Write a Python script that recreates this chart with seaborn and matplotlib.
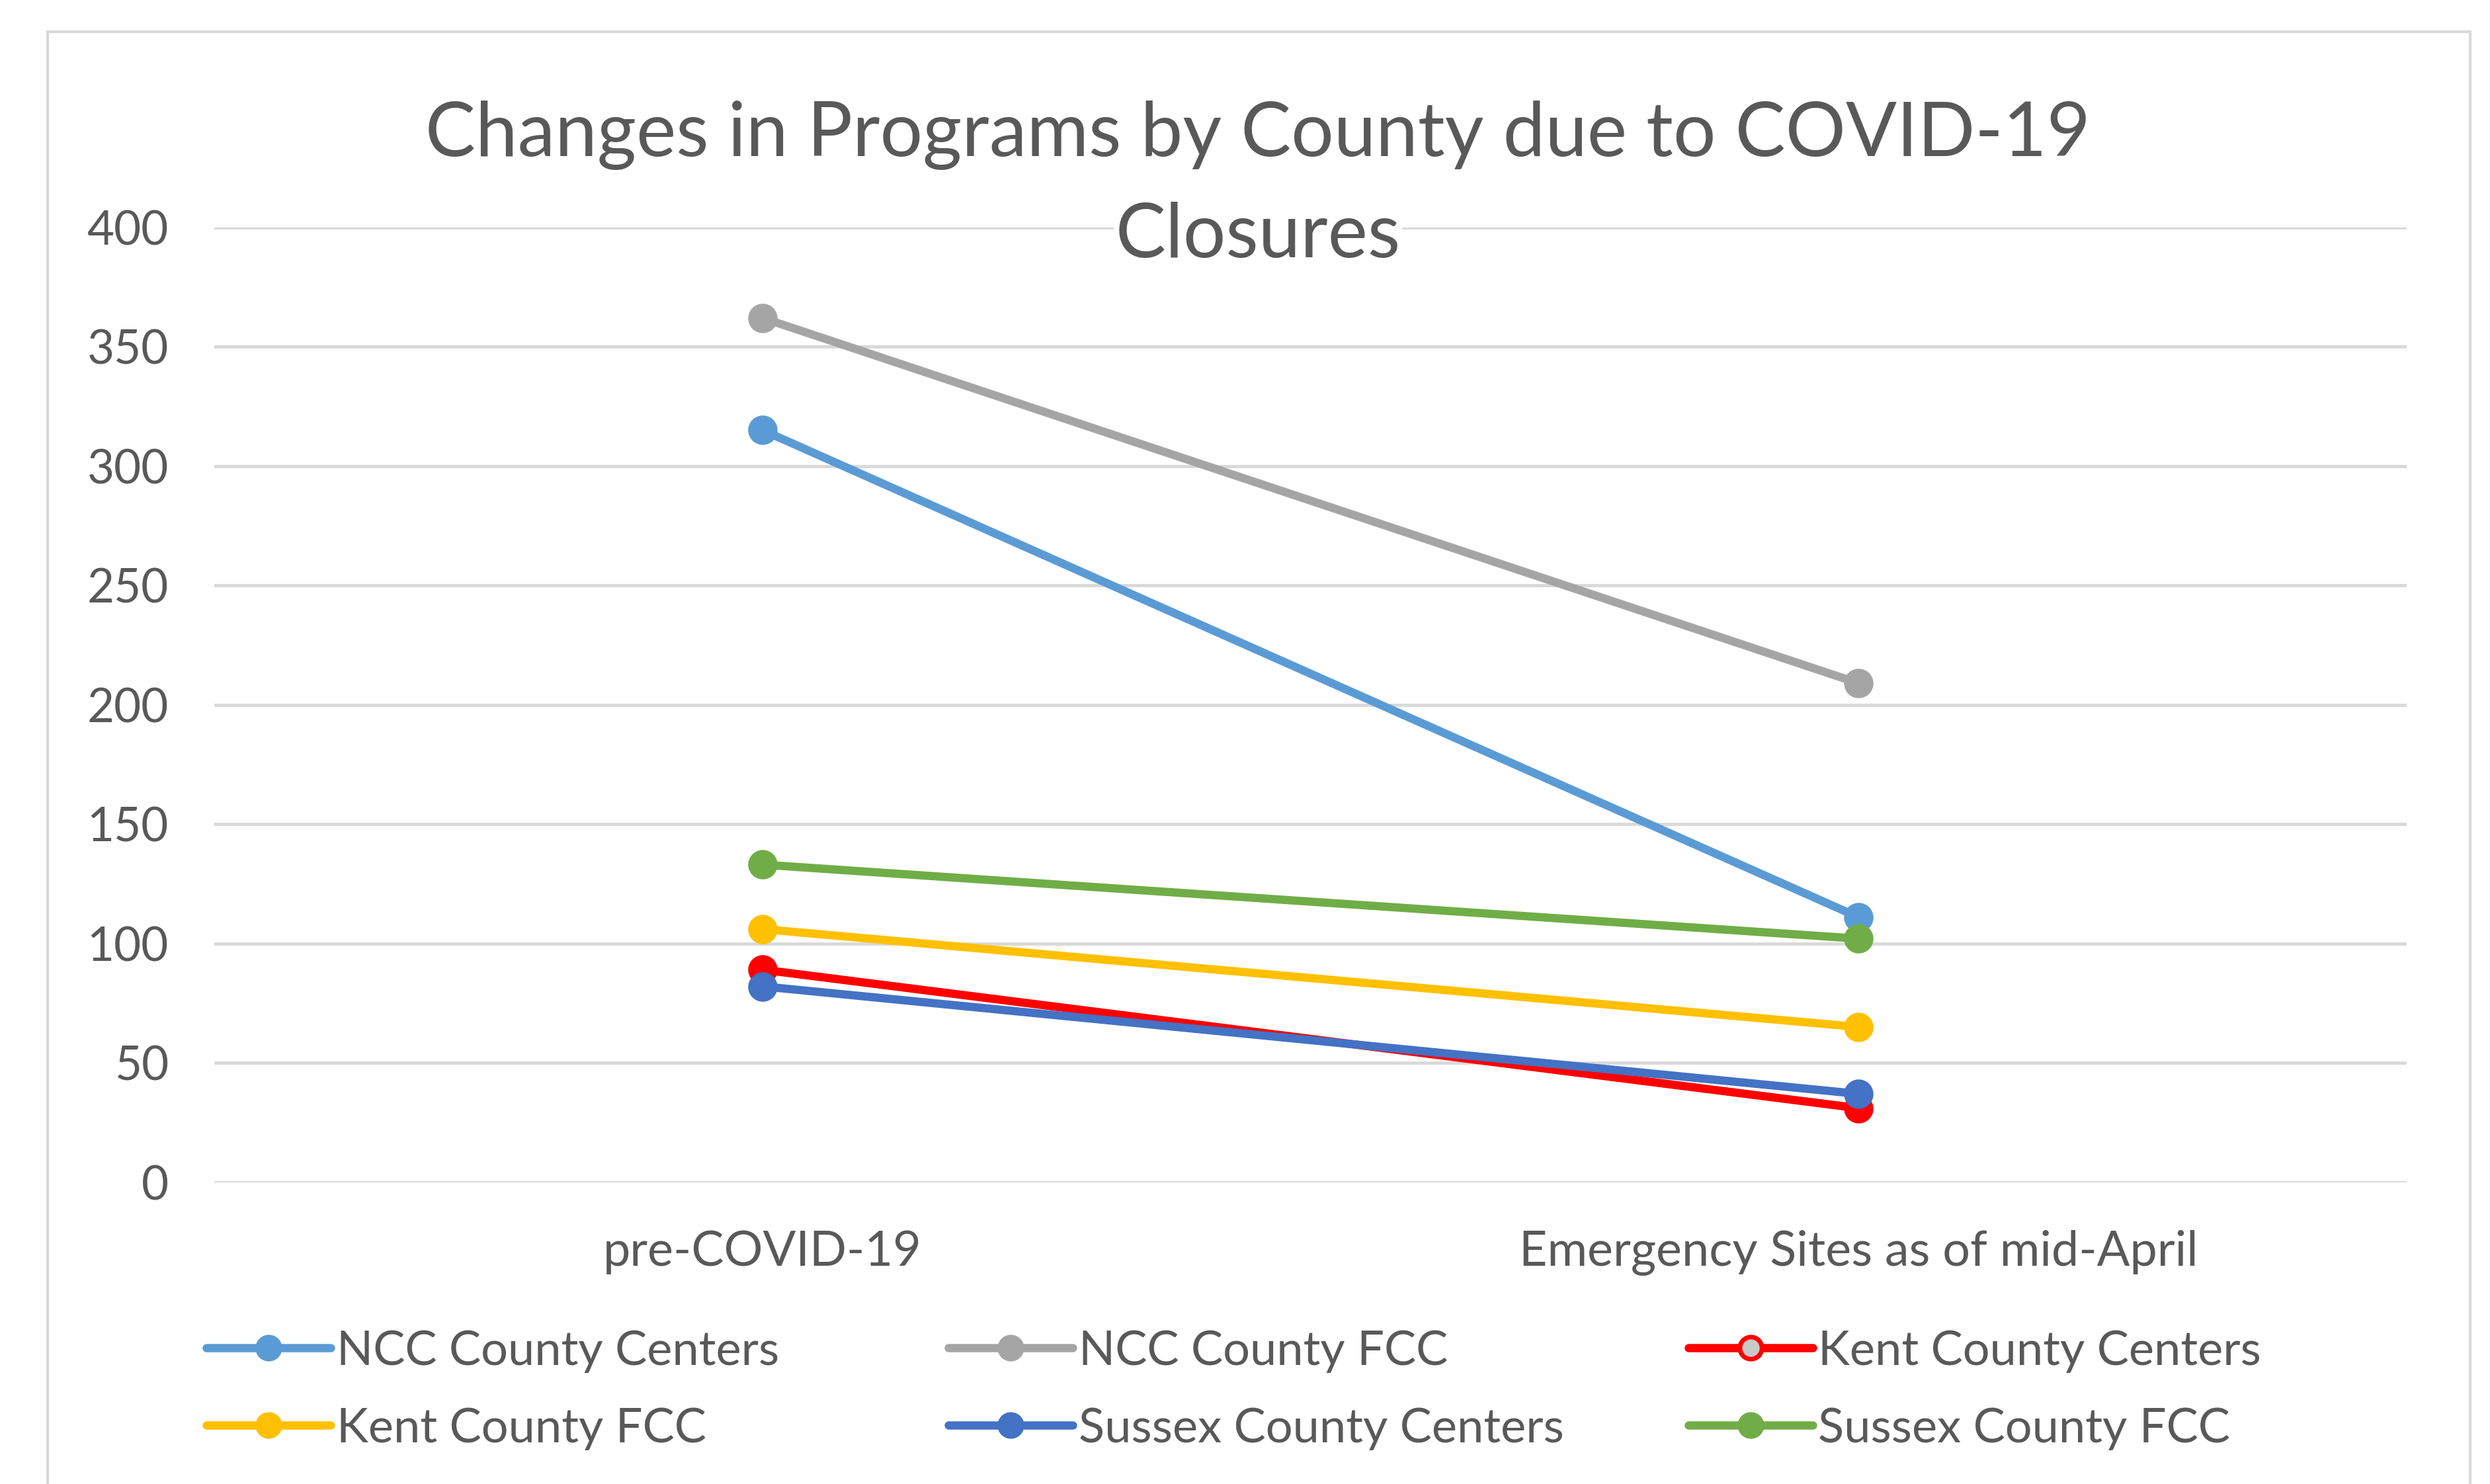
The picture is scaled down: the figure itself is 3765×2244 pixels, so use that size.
import pandas as pd
import matplotlib.pyplot as plt
import seaborn as sns
from matplotlib.lines import Line2D
from matplotlib.patches import Rectangle

# Dati
periods = ["pre-COVID-19", "Emergency Sites as of mid-April"]
series = ["NCC County Centers", "NCC County FCC", "Kent County Centers",
          "Kent County FCC", "Sussex County Centers", "Sussex County FCC"]
ncc_centers = [315, 111]
ncc_fcc = [362, 209]
kent_centers = [89, 31]
kent_fcc = [106, 65]
sussex_centers = [82, 37]
sussex_fcc = [133, 102]
colors = ["#5B9BD5", "#A5A5A5", "#FF0000", "#FFC000", "#4472C4", "#70AD47"]
y_ticks = [0, 50, 100, 150, 200, 250, 300, 350, 400]

values = [ncc_centers, ncc_fcc, kent_centers, kent_fcc, sussex_centers, sussex_fcc]
rows = []
for name, vals in zip(series, values):
    for p, v in zip(periods, vals):
        rows.append({"period": p, "programs": v, "series": name})
df = pd.DataFrame(rows)

sns.set_style("white")
plt.rcParams["font.family"] = ["Lato", "DejaVu Sans"]
text_color = "#595959"

fig = plt.figure(figsize=(37.66, 22.44), dpi=100)
fig.patch.set_facecolor("white")

# Cornice del grafico (stile Excel)
fig.patches.append(Rectangle((0.0191, -0.05), 0.9727, 1.0286, transform=fig.transFigure,
                             fill=False, edgecolor="#d9d9d9", linewidth=3))

ax = fig.add_axes([0.0861, 0.2034, 0.8801, 0.6435])
lw = 9
ms = 30
sns.lineplot(data=df, x="period", y="programs", hue="series", hue_order=series,
             palette=colors, marker="o", markersize=ms, linewidth=lw,
             legend=False, ax=ax, sort=False)
for line, c in zip(ax.get_lines(), colors):
    line.set_markeredgecolor(c)
    line.set_markeredgewidth(2)
    line.set_zorder(3)

ax.set_xlim(-0.5, 1.5)
ax.set_ylim(0, 400)
ax.set_yticks(y_ticks)
ax.yaxis.grid(True, color="#d9d9d9", linewidth=3.5)
ax.set_axisbelow(True)
for s in ax.spines.values():
    s.set_visible(False)
ax.tick_params(axis="y", length=0, pad=50, labelsize=51, labelcolor=text_color)
ax.tick_params(axis="x", length=0, pad=52, labelsize=53, labelcolor=text_color)
ax.set_xlabel("")
ax.set_ylabel("")

# Titolo su due righe
fig.text(0.505, 0.909, "Changes in Programs by County due to COVID-19", ha="center", va="center",
         fontsize=82, color=text_color)
fig.text(0.505, 0.841, "Closures", ha="center", va="center", fontsize=82, color=text_color,
         bbox=dict(facecolor="white", edgecolor="none", pad=2))

# Legenda: tre colonne a larghezza fissa
col_x = [0.0829, 0.3808, 0.6779]
col_items = [[0, 3], [1, 4], [2, 5]]
for x, idxs in zip(col_x, col_items):
    handles = []
    for i in idxs:
        mfc = "#c9c9c9" if i == 2 else colors[i]
        handles.append(Line2D([0], [0], color=colors[i], lw=lw, marker="o", markersize=ms * 0.8,
                              markerfacecolor=mfc, markeredgecolor=colors[i], markeredgewidth=5))
    fig.legend(handles, [series[i] for i in idxs], loc="upper left", bbox_to_anchor=(x, 0.104),
               frameon=False, fontsize=52, labelcolor=text_color, handlelength=2.6,
               handletextpad=0.12, borderpad=0, borderaxespad=0, labelspacing=0.72)

fig.savefig("out.png", dpi=100)
plt.close(fig)
